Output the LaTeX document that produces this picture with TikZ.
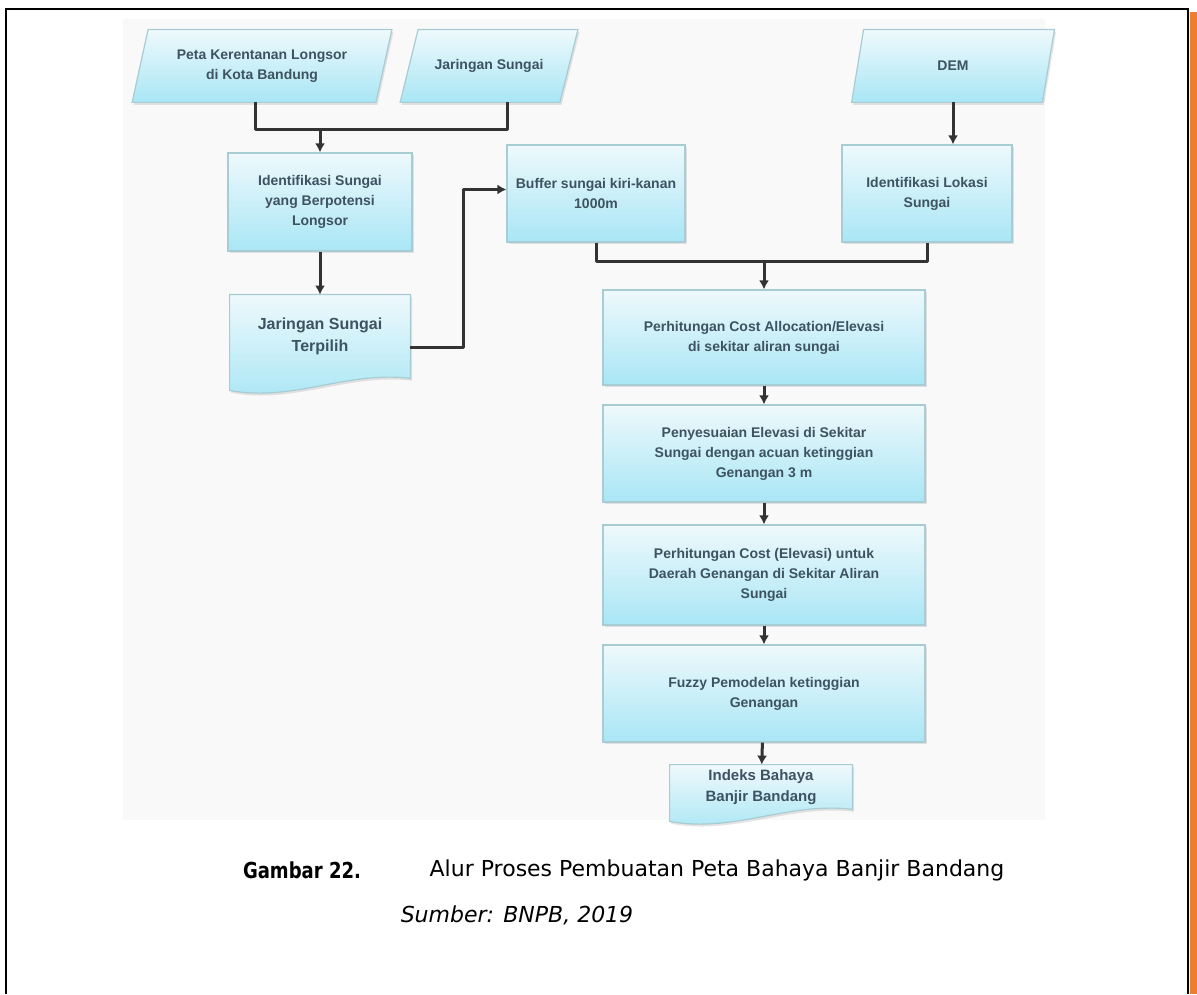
\documentclass[tikz,border=0pt]{standalone}
\usepackage{fontspec}
\setmainfont{Liberation Sans}
\newfontfamily\capfont{DejaVu Sans}[BoldFeatures={FakeStretch=0.82}]
\usetikzlibrary{arrows.meta,backgrounds,calc,shadows}

\definecolor{boxtop}{HTML}{EEF9FC}
\definecolor{boxbot}{HTML}{A9E6F5}
\definecolor{boxline}{HTML}{A8CCD4}
\definecolor{flow}{HTML}{333333}
\definecolor{boxtext}{HTML}{3E5361}
\definecolor{accent}{HTML}{ED7D31}
\definecolor{panel}{HTML}{F9F9F9}

\begin{document}
\begin{tikzpicture}[x=0.5pt,y=-0.5pt,
  txt/.style={font=\bfseries\fontsize{7}{10}\selectfont, text=boxtext, align=center, inner sep=0pt},
  boxshade/.style={draw=boxline, line width=0.6pt, top color=boxtop, bottom color=boxbot,
    drop shadow={opacity=0.2, shadow xshift=0.8pt, shadow yshift=-1.2pt}},
  procbox/.style={txt, rectangle, boxshade},
  flowline/.style={draw=flow, line width=1.5pt, line join=round},
  arr/.style={flowline, -{Latex[length=4.5pt,width=5pt]}},
  caption/.style={font=\capfont\fontsize{11}{13}\selectfont, inner sep=0pt},
]
\useasboundingbox (0,0) rectangle (1197,994);
\begin{pgfonlayer}{background}
  \fill[white] (0,0) rectangle (1197,994);
  \fill[panel] (123,19) rectangle (1045,820);
\end{pgfonlayer}

% page frame and side bar
\draw[black, line width=1.1pt] (6,994) -- (6,9) -- (1188,9) -- (1188,994);
\fill[accent] (1190,12) rectangle (1197,994);

% data inputs (parallelograms drawn on the background layer)
\node[txt, minimum width=121.5pt, minimum height=36pt] (in1) at (262,66) {Peta Kerentanan Longsor\\di Kota Bandung};
\node[txt, minimum width=79.5pt, minimum height=36pt] (in2) at (489,66) {Jaringan Sungai};
\node[txt, minimum width=95pt, minimum height=36pt] (dem) at (953,66) {DEM};

% processing steps
\node[procbox, minimum width=92pt, minimum height=49pt] (id1) at (320,202) {Identifikasi Sungai\\yang Berpotensi\\Longsor};
\node[txt, font=\bfseries\fontsize{8}{11}\selectfont, minimum width=90pt, minimum height=41.5pt] (jst) at (320,336.5) {Jaringan Sungai\\Terpilih};
\node[procbox, minimum width=89pt, minimum height=48.5pt] (buf) at (596,193.5) {Buffer sungai kiri-kanan\\1000m};
\node[procbox, minimum width=85pt, minimum height=48.5pt] (lok) at (927,193.5) {Identifikasi Lokasi\\Sungai};
\node[procbox, minimum width=161pt, minimum height=47.5pt] (c1) at (764,337.5) {Perhitungan Cost Allocation/Elevasi\\di sekitar aliran sungai};
\node[procbox, minimum width=161pt, minimum height=48.5pt] (c2) at (764,453.5) {Penyesuaian Elevasi di Sekitar\\Sungai dengan acuan ketinggian\\Genangan 3 m};
\node[procbox, minimum width=161pt, minimum height=50pt] (c3) at (764,575) {Perhitungan Cost (Elevasi) untuk\\Daerah Genangan di Sekitar Aliran\\Sungai};
\node[procbox, minimum width=161pt, minimum height=48.5pt] (c4) at (764,693.5) {Fuzzy Pemodelan ketinggian\\Genangan};
\node[txt, font=\bfseries\fontsize{7.5}{10.5}\selectfont, minimum width=91pt, minimum height=22pt] (out) at (761,787) {Indeks Bahaya\\Banjir Bandang};

\begin{pgfonlayer}{background}
  % parallelograms
  \foreach \p/\s in {in1/8, in2/9, dem/6} {
    \path[boxshade] ($(\p.south west)+(-\s,0)$) -- ($(\p.south east)+(-\s,0)$)
      -- ($(\p.north east)+(\s,0)$) -- ($(\p.north west)+(\s,0)$) -- cycle;
  }
  % document shapes with wavy bottom edge
  \foreach \d in {jst, out} {
    \path[boxshade] (\d.south east) -- (\d.north east) -- (\d.north west)
      -- ($(\d.south west)+(0,12)$)
      .. controls ($(\d.south west)!0.35!(\d.south east)+(0,24)$)
      and ($(\d.south west)!0.65!(\d.south east)+(0,-8)$) .. (\d.south east) -- cycle;
  }
\end{pgfonlayer}

% connectors
\coordinate (j1) at (320,130);
\draw[flowline] ($(in1.south)+(-7,0)$) |- (j1) -| ($(in2.south)+(18,0)$);
\draw[arr] (j1) -- (id1.north);
\draw[arr] (id1) -- (jst);
\draw[arr] ($(jst.east)+(0,11)$) -- ++(53,0) |- ($(buf.west)+(0,-4)$);
\draw[arr] (dem.south) -- (dem.south |- lok.north);
\coordinate (j2) at (764,262);
\draw[flowline] (buf.south) |- (j2) -| (lok.south);
\draw[arr] (j2) -- (c1.north);
\draw[arr] (c1) -- (c2);
\draw[arr] (c2) -- (c3);
\draw[arr] (c3) -- (c4);
\draw[arr] (c4) -- (out);

% caption
\node[caption] (capnum) at (302,870) {\bfseries Gambar 22.};
\node[caption] (captext) at (717,870) {Alur Proses Pembuatan Peta Bahaya Banjir Bandang};
\node[caption] (capsrc) at (517,915) {\itshape Sumber: BNPB, 2019};
\end{tikzpicture}
\end{document}
